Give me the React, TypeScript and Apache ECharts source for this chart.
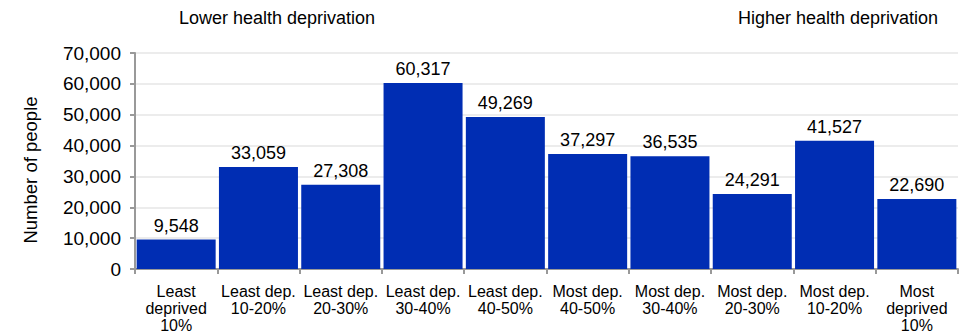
import React, { useEffect, useRef } from "react";
import * as echarts from "echarts";

const categories = [
  "Least\ndeprived\n10%",
  "Least dep.\n10-20%",
  "Least dep.\n20-30%",
  "Least dep.\n30-40%",
  "Least dep.\n40-50%",
  "Most dep.\n40-50%",
  "Most dep.\n30-40%",
  "Most dep.\n20-30%",
  "Most dep.\n10-20%",
  "Most\ndeprived\n10%",
];
const values = [9548, 33059, 27308, 60317, 49269, 37297, 36535, 24291, 41527, 22690];
const yTicks = { min: 0, max: 70000, interval: 10000 };
const leftNote = "Lower health deprivation";
const rightNote = "Higher health deprivation";
const yName = "Number of people";

const FONT = "Liberation Sans, Arial, sans-serif";

export default function App() {
  const ref = useRef<HTMLDivElement>(null);
  useEffect(() => {
    if (!ref.current) return;
    const chart = echarts.init(ref.current, null, { renderer: "svg" });
    chart.setOption({
      animation: false,
      textStyle: { fontFamily: FONT },
      grid: { left: 135, right: 5, top: 53, bottom: 63, containLabel: false },
      graphic: [
        {
          type: "text",
          x: 277,
          y: 18,
          style: {
            text: leftNote,
            font: `18px ${FONT}`,
            fill: "#000",
            align: "center",
            verticalAlign: "middle",
          },
        },
        {
          type: "text",
          x: 838,
          y: 18,
          style: {
            text: rightNote,
            font: `18px ${FONT}`,
            fill: "#000",
            align: "center",
            verticalAlign: "middle",
          },
        },
        {
          type: "text",
          x: 30,
          y: 170,
          rotation: Math.PI / 2,
          style: {
            text: yName,
            font: `18.5px ${FONT}`,
            fill: "#000",
            align: "center",
            verticalAlign: "middle",
          },
        },
      ],
      xAxis: {
        type: "category",
        data: categories,
        axisLine: { lineStyle: { color: "#999", width: 2 } },
        axisTick: { show: true, length: 5, lineStyle: { color: "#999", width: 2 } },
        axisLabel: {
          interval: 0,
          color: "#000",
          fontSize: 16,
          lineHeight: 17,
          margin: 14,
          fontFamily: FONT,
        },
      },
      yAxis: {
        type: "value",
        min: yTicks.min,
        max: yTicks.max,
        interval: yTicks.interval,
        axisLine: { show: true, lineStyle: { color: "#999", width: 2 } },
        axisTick: { show: true, length: 5, lineStyle: { color: "#999", width: 2 } },
        splitLine: { show: true, lineStyle: { color: "#ececec", width: 2 } },
        axisLabel: {
          color: "#000",
          fontSize: 19,
          margin: 14,
          fontFamily: FONT,
          formatter: (v: number) => v.toLocaleString("en-US"),
        },
      },
      series: [
        {
          type: "bar",
          data: values,
          barCategoryGap: "4%",
          itemStyle: { color: "#002DB3" },
          label: {
            show: true,
            position: "top",
            distance: 5,
            color: "#000",
            fontSize: 18,
            fontFamily: FONT,
            formatter: (p: any) => Number(p.value).toLocaleString("en-US"),
          },
        },
      ],
    });
    return () => chart.dispose();
  }, []);
  return (
    <div
      ref={ref}
      style={{ position: "fixed", left: 0, top: 0, width: 963, height: 334, background: "#fff" }}
    />
  );
}
